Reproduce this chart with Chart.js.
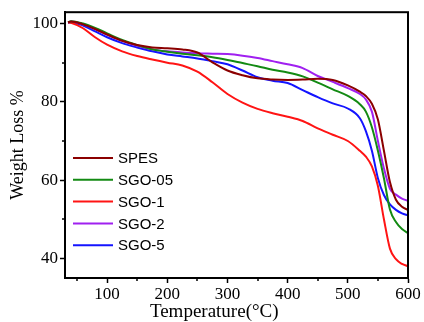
<!DOCTYPE html>
<html>
<head>
<meta charset="utf-8">
<script src="https://cdn.jsdelivr.net/npm/chart.js@4/dist/chart.umd.min.js"></script>
<style>
html,body{margin:0;padding:0;background:#fff;}
#wrap{width:424px;height:322px;position:relative;}
</style>
</head>
<body>
<div id="wrap"><canvas id="c" width="424" height="322"></canvas></div>
<script>
const temperatures = [35,40,60,80,100,125,150,175,200,225,250,275,300,325,350,375,400,425,450,475,500,520,530,540,550,560,570,580,590,600];
const spes   = [100.3,100.5,99.8,98.6,97.2,95.6,94.5,93.9,93.7,93.4,92.6,90.1,88.0,86.8,86.0,85.7,85.6,85.7,85.9,85.6,84.2,82.6,81.5,79.5,75.5,67.5,59.5,55.0,53.2,52.4];
const sgo05  = [100.3,100.6,100.0,98.9,97.5,95.8,94.5,93.4,92.8,92.3,91.9,91.4,90.7,89.9,89.1,88.2,87.5,86.5,84.9,83.2,81.5,79.4,77.5,73.5,67.5,60.5,52.5,49.3,47.5,46.5];
const sgo1   = [100.3,100.2,98.8,96.5,94.6,92.9,91.7,90.8,90.0,89.3,87.7,85.0,82.0,79.8,78.2,77.1,76.2,75.1,73.2,71.6,70.0,67.5,66.0,63.5,58.5,50.0,42.5,39.8,38.6,38.0];
const sgo2   = [100.2,100.5,99.8,98.6,97.2,95.6,94.3,93.4,92.9,92.6,92.4,92.3,92.2,91.8,91.2,90.4,89.6,88.6,86.6,85.1,83.5,82.0,80.6,77.5,70.0,63.0,57.8,56.3,55.3,54.7];
const sgo5   = [100.2,100.3,99.5,98.0,96.5,95.0,93.9,92.9,92.1,91.6,91.1,90.4,89.6,88.0,86.3,85.4,84.8,83.0,81.2,79.6,78.3,75.8,72.5,67.5,60.5,56.2,53.8,52.4,51.5,51.0];
const seriesNames = ['SPES','SGO-05','SGO-1','SGO-2','SGO-5'];
const xTickLabels = [100,200,300,400,500,600];
const yTickLabels = [40,60,80,100];
const xTitle = 'Temperature(°C)';
const yTitle = 'Weight Loss %';

const colors = ['#8B0000','#138A13','#FF1414','#A020F0','#1414FF'];
const seriesValues = [spes, sgo05, sgo1, sgo2, sgo5];

const datasets = seriesNames.map((n,i)=>({
  label:n,
  data: temperatures.map((t,j)=>({x:t,y:seriesValues[i][j]})),
  borderColor: colors[i],
  backgroundColor: colors[i],
  borderWidth: 2,
  pointRadius: 0,
  cubicInterpolationMode: 'monotone',
  fill:false
}));

const serif = "'Liberation Serif', 'Times New Roman', serif";
const sans = "'Liberation Sans', Arial, sans-serif";

const framePlugin = {
  id:'frame',
  afterDraw(chart){
    const ctx = chart.ctx, a = chart.chartArea;
    const xs = chart.scales.x, ys = chart.scales.y;
    ctx.save();
    ctx.strokeStyle = '#000';
    // minor ticks
    ctx.lineWidth = 1.5;
    ctx.beginPath();
    for (let v=50; v<600; v+=100){
      const px = Math.round(xs.getPixelForValue(v));
      ctx.moveTo(px, a.bottom); ctx.lineTo(px, a.bottom+3);
    }
    for (let v=50; v<=90; v+=20){
      const py = Math.round(ys.getPixelForValue(v));
      ctx.moveTo(a.left, py); ctx.lineTo(a.left-3, py);
    }
    ctx.stroke();
    // frame
    ctx.lineWidth = 2;
    ctx.strokeRect(a.left, a.top, a.right-a.left, a.bottom-a.top);
    // x axis title
    ctx.font = '19px ' + serif;
    ctx.textAlign = 'center';
    ctx.textBaseline = 'middle';
    ctx.fillStyle = '#000';
    ctx.fillText(xTitle, xs.getPixelForValue(278), 312);
    // legend
    ctx.textAlign = 'left';
    ctx.font = '15px ' + sans;
    const lx = a.left + 8, ly0 = 158, dy = 21.8;
    chart.data.datasets.forEach((d,i)=>{
      const y = ly0 + i*dy;
      ctx.strokeStyle = d.borderColor;
      ctx.lineWidth = 2;
      ctx.beginPath(); ctx.moveTo(lx, y); ctx.lineTo(lx+40, y); ctx.stroke();
      ctx.fillStyle = '#000';
      ctx.fillText(d.label, lx+45, y+1);
    });
    ctx.restore();
  }
};

new Chart(document.getElementById('c'), {
  type:'line',
  data:{datasets},
  options:{
    responsive:false,
    animation:false,
    layout:{padding:{top:10,right:16,left:0,bottom:0}},
    plugins:{legend:{display:false},tooltip:{enabled:false}},
    scales:{
      x:{
        type:'linear', min:30, max:600,
        afterFit(s){ s.height = 44; },
        afterBuildTicks(s){ s.ticks = xTickLabels.map(v=>({value:v})); },
        grid:{drawOnChartArea:false, drawTicks:true, tickLength:5, tickWidth:1.5, tickColor:'#000'},
        border:{display:true, color:'#000', width:2},
        ticks:{color:'#000', font:{family:serif, size:17}, padding:1, maxRotation:0, autoSkip:false},
        title:{display:false, text:xTitle}
      },
      y:{
        type:'linear', min:35, max:102.9,
        afterFit(s){ s.width = 65; },
        afterBuildTicks(s){ s.ticks = yTickLabels.map(v=>({value:v})); },
        grid:{drawOnChartArea:false, drawTicks:true, tickLength:5, tickWidth:1.5, tickColor:'#000'},
        border:{display:true, color:'#000', width:2},
        ticks:{color:'#000', font:{family:serif, size:17}, padding:2},
        title:{display:true, text:yTitle, color:'#000', font:{family:serif, size:18}, padding:{top:7,bottom:0}}
      }
    }
  },
  plugins:[framePlugin]
});
</script>
</body>
</html>
